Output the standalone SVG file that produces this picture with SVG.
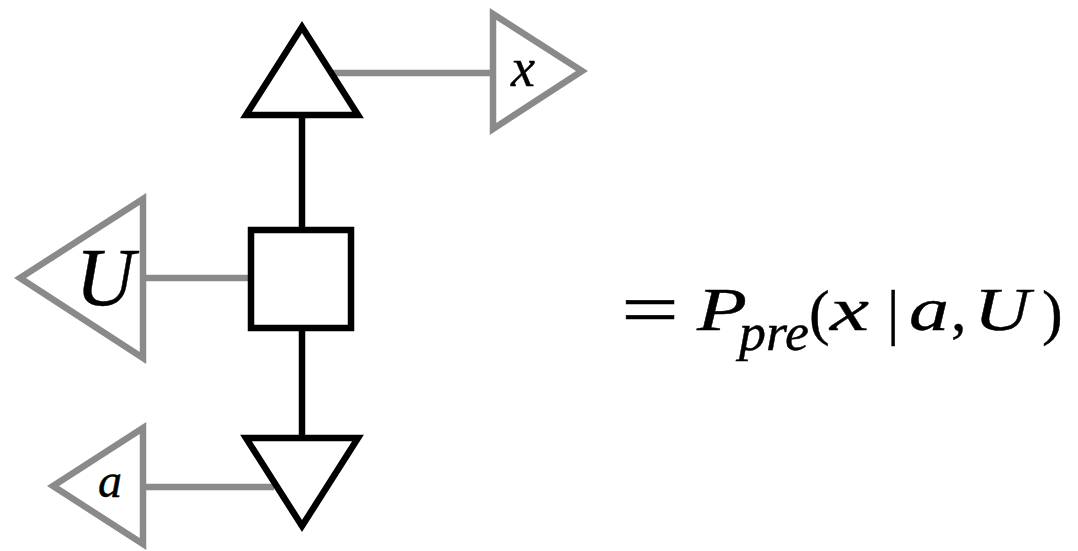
<svg xmlns="http://www.w3.org/2000/svg" width="1078" height="551" viewBox="0 0 1078 551">
<style>
.blk{fill:#fff;stroke:#000;stroke-width:6.5;stroke-linejoin:miter}
.gry{fill:#fff;stroke:#8a8a8a;stroke-width:6.5;stroke-linejoin:miter}
.cb{stroke:#000;stroke-width:6.5;fill:none}
.cg{stroke:#8a8a8a;stroke-width:6.5;fill:none}
text{font-family:'Liberation Serif','Times New Roman','DejaVu Serif',serif;fill:#000;stroke:#000;stroke-width:0.4}
.lbl{font-style:italic;text-anchor:middle}
.i{font-style:italic}
</style>
<rect width="1078" height="551" fill="#fff"/>
<g id="connectors">
<line class="cb" x1="302" y1="112" x2="302" y2="230"/>
<line class="cb" x1="302" y1="326" x2="302" y2="440"/>
<line class="cg" x1="330" y1="73" x2="493" y2="73"/>
<line class="cg" x1="143" y1="278" x2="252" y2="278"/>
<line class="cg" x1="143" y1="487" x2="274" y2="487"/>
</g>
<g id="top-triangle"><polygon class="blk" points="302,27 246,115 358,115"/></g>
<g id="factor"><rect class="blk" x="251" y="230" width="100" height="98"/></g>
<g id="bottom-triangle"><polygon class="blk" points="246,438 358,438 302,526"/></g>
<g id="x-node"><polygon class="gry" points="493,14 493,129 582,71"/><text class="lbl" x="523" y="86" font-size="54">x</text></g>
<g id="U-node"><polygon class="gry" points="143,199 143,358 20,278"/><text class="lbl" x="105" y="305" font-size="82">U</text></g>
<g id="a-node"><polygon class="gry" points="143,428 143,544 53,486"/><text class="lbl" x="110" y="497" font-size="48">a</text></g>
<g id="formula">
<text font-size="74" x="621" y="334" textLength="58" lengthAdjust="spacingAndGlyphs">=</text>
<text class="i" font-size="62" x="697" y="330" textLength="50" lengthAdjust="spacingAndGlyphs">P</text>
<text class="i" font-size="52" x="739" y="350" textLength="70" lengthAdjust="spacingAndGlyphs">pre</text>
<text font-size="62" x="809" y="333">(</text>
<text class="i" font-size="62" x="830" y="330" textLength="39" lengthAdjust="spacingAndGlyphs">x</text>
<text font-size="62" x="887" y="333">|</text>
<text class="i" font-size="62" x="909" y="330" textLength="40" lengthAdjust="spacingAndGlyphs">a</text>
<text font-size="62" x="951" y="330">,</text>
<text class="i" font-size="62" x="974" y="330" textLength="56" lengthAdjust="spacingAndGlyphs">U</text>
<text font-size="62" x="1042" y="333">)</text>
</g>
</svg>
